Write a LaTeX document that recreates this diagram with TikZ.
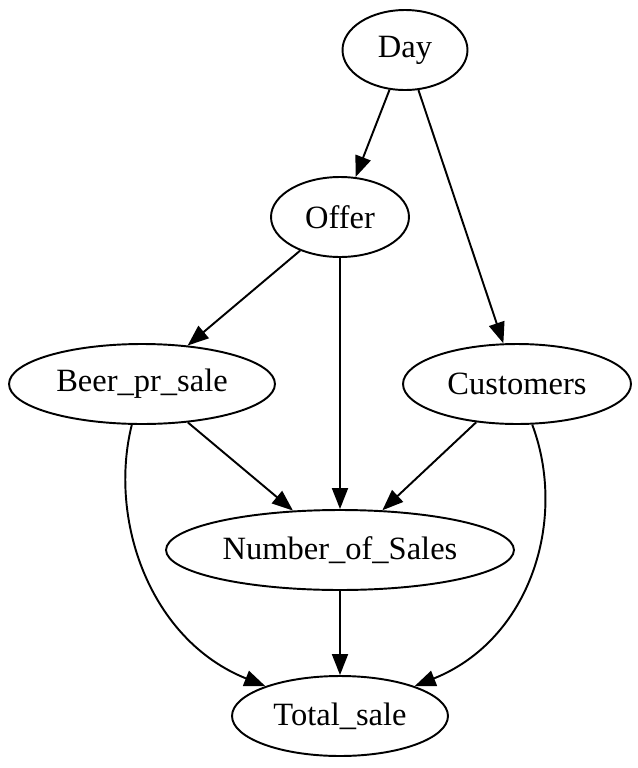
\documentclass[tikz,border=0pt]{standalone}
\usepackage{fontspec}
\setmainfont{Liberation Serif}
\usetikzlibrary{shapes.geometric,arrows.meta}
\tikzset{
  var/.style={draw, ellipse, line width=1.1pt, inner sep=0pt, minimum height=1.6cm,
    font=\fontsize{18.5}{22}\selectfont},
  edge/.style={line width=1.1pt, -{Triangle[length=0.42cm,width=0.32cm]}}
}
\begin{document}
\begin{tikzpicture}[x=0.02cm,y=-0.02cm]
  \useasboundingbox (0,0) rectangle (638,768);
  \node[var, minimum width=2.5cm] (day) at (405,50) {Day};
  \node[var, minimum width=2.76cm] (offer) at (340,217) {Offer};
  \node[var, minimum width=5.32cm] (beer) at (142,384) {Beer\_pr\_sale};
  \node[var, minimum width=4.56cm] (customers) at (517,384) {Customers};
  \node[var, minimum width=6.96cm] (sales) at (340,550) {Number\_of\_Sales};
  \node[var, minimum width=4.32cm] (total) at (340,716) {Total\_sale};
  \draw[edge] (day) -- (offer);
  \draw[edge] (day) -- (customers);
  \draw[edge] (offer) -- (beer);
  \draw[edge] (offer) -- (sales);
  \draw[edge] (beer) -- (sales);
  \draw[edge] (customers) -- (sales);
  \draw[edge] (sales) -- (total);
  \draw[edge] (beer) .. controls (108,520) and (150,640) .. (total);
  \draw[edge] (customers) .. controls (568,520) and (530,640) .. (total);
\end{tikzpicture}
\end{document}
